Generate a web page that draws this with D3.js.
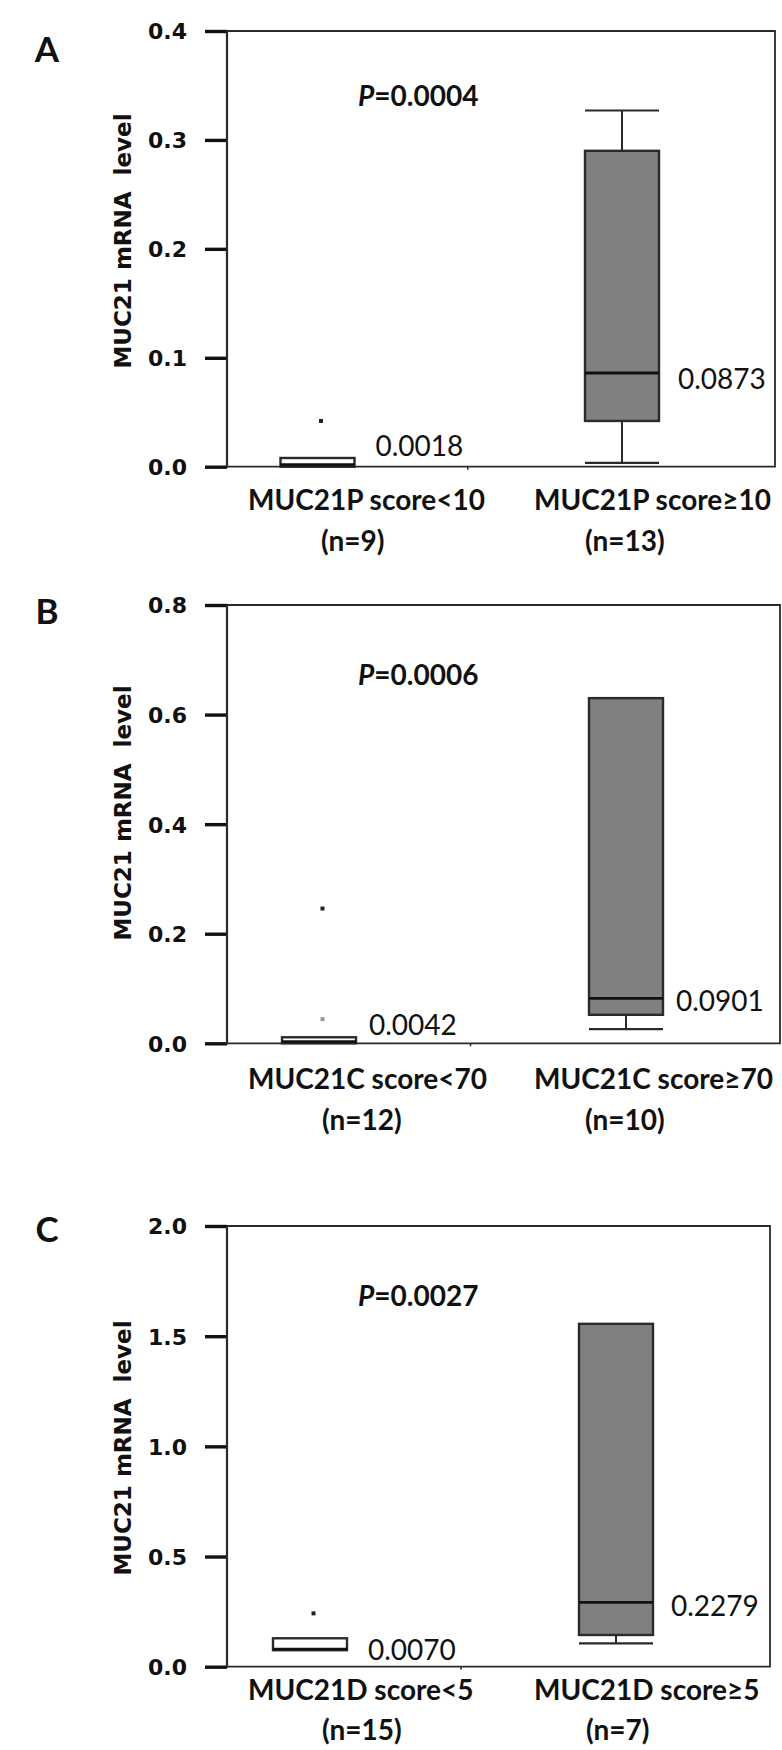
<!DOCTYPE html>
<html><head><meta charset="utf-8">
<script src="https://cdn.jsdelivr.net/npm/d3@7"></script>
<style>body{margin:0;background:#fff} svg{display:block}</style>
</head><body>
<svg id="chart" width="782" height="1750"></svg>
<script>
// ---------------- DATA ----------------
const panelLetters = ["A", "B", "C"];
const yTitle = "MUC21 mRNA\u00a0 level";

const categoriesA = ["MUC21P score<10", "MUC21P score\u226510"];
const groupSizesA = ["(n=9)", "(n=13)"];
const yTicksA = [0, 0.1, 0.2, 0.3, 0.4];
const pValueA = "0.0004";
const minA = [0, 0.0035];
const q1A = [0, 0.042];
const medianA = [0.0018, 0.086];
const q3A = [0.008, 0.29];
const maxA = [0.008, 0.327];
const outliersA = [[0.042], []];
const medianLabelsA = ["0.0018", "0.0873"];

const categoriesB = ["MUC21C score<70", "MUC21C score\u226570"];
const groupSizesB = ["(n=12)", "(n=10)"];
const yTicksB = [0, 0.2, 0.4, 0.6, 0.8];
const pValueB = "0.0006";
const minB = [0, 0.026];
const q1B = [0, 0.052];
const medianB = [0.003, 0.082];
const q3B = [0.011, 0.63];
const maxB = [0.011, 0.63];
const outliersB = [[0.246, 0.044], []];
const outlierShadeB = [["#222", "#999"], []];
const medianLabelsB = ["0.0042", "0.0901"];

const categoriesC = ["MUC21D score<5", "MUC21D score\u22655"];
const groupSizesC = ["(n=15)", "(n=7)"];
const yTicksC = [0, 0.5, 1.0, 1.5, 2.0];
const pValueC = "0.0027";
const minC = [0.075, 0.106];
const q1C = [0.075, 0.144];
const medianC = [0.08, 0.292];
const q3C = [0.129, 1.556];
const maxC = [0.129, 1.556];
const outliersC = [[0.242], []];
const medianLabelsC = ["0.0070", "0.2279"];

// ---------------- LAYOUT ----------------
const panels = [
  { letter: panelLetters[0], cats: categoriesA, ns: groupSizesA, ticks: yTicksA, p: pValueA,
    min: minA, q1: q1A, med: medianA, q3: q3A, max: maxA, out: outliersA, outShade: [["#222"], []],
    labels: medianLabelsA,
    top: 31, bottom: 466.7, left: 227, right: 775, centers: [317.5, 622], boxW: 74,
    labDx: [21, 19], labDy: [-20, 5], pY: 95, catY: 499, nY: 540, letterY: 62,
    catX: [248, 534], nX: [321, 585], titleY: 241 },
  { letter: panelLetters[1], cats: categoriesB, ns: groupSizesB, ticks: yTicksB, p: pValueB,
    min: minB, q1: q1B, med: medianB, q3: q3B, max: maxB, out: outliersB, outShade: outlierShadeB,
    labels: medianLabelsB,
    top: 605, bottom: 1043.3, left: 227, right: 780, centers: [319, 626], boxW: 74,
    labDx: [13, 13], labDy: [-18, 2], pY: 674, catY: 1078, nY: 1119, letterY: 624,
    catX: [248, 534], nX: [322, 585], titleY: 813 },
  { letter: panelLetters[2], cats: categoriesC, ns: groupSizesC, ticks: yTicksC, p: pValueC,
    min: minC, q1: q1C, med: medianC, q3: q3C, max: maxC, out: outliersC, outShade: [["#222"], []],
    labels: medianLabelsC,
    top: 1226, bottom: 1666.7, left: 227, right: 770, centers: [310, 616], boxW: 74,
    labDx: [21, 18], labDy: [0, 3], pY: 1295, catY: 1689, nY: 1729, letterY: 1242,
    catX: [248, 534], nX: [322, 586], titleY: 1448 }
];

const svg = d3.select("#chart");
const fills = ["#ffffff", "#808080"];
const ink = "#2a2a2a";

panels.forEach(P => {
  const g = svg.append("g");
  const y = d3.scaleLinear().domain([P.ticks[0], P.ticks[P.ticks.length - 1]]).range([P.bottom, P.top]);
  const x = d3.scalePoint().domain(P.cats).range(P.centers);

  // frame (top, right, bottom)
  g.append("path")
    .attr("d", `M${P.left},${P.top}H${P.right}V${P.bottom}H${P.left}`)
    .attr("fill", "none").attr("stroke", ink).attr("stroke-width", 1.8);
  // small tick on the x axis
  g.append("line").attr("x1", (P.centers[0] + P.centers[1]) / 2 - 2).attr("x2", (P.centers[0] + P.centers[1]) / 2 - 2)
    .attr("y1", P.bottom).attr("y2", P.bottom + 3).attr("stroke", ink).attr("stroke-width", 1.5);

  // y axis
  const axis = d3.axisLeft(y).tickValues(P.ticks).tickSize(22).tickPadding(18)
    .tickFormat(d3.format(".1f"));
  const ag = g.append("g").attr("transform", `translate(${P.left},0)`).call(axis);
  ag.select(".domain").remove();
  ag.selectAll(".tick line").attr("stroke", "#111").attr("stroke-width", 3.4);
  ag.selectAll(".tick text").attr("font-family", "DejaVu Sans").attr("font-weight", "bold")
    .attr("font-size", 22).attr("fill", "#111").attr("dy", "0.36em");
  g.append("line").attr("x1", P.left).attr("x2", P.left).attr("y1", P.top).attr("y2", P.bottom + 1)
    .attr("stroke", ink).attr("stroke-width", 2.2);

  // y title
  g.append("text")
    .attr("transform", `translate(123,${P.titleY}) rotate(-90)`)
    .attr("text-anchor", "middle").attr("dominant-baseline", "central")
    .attr("font-family", "DejaVu Sans").attr("font-weight", "bold").attr("font-size", 23)
    .attr("fill", "#111").text(yTitle);

  // panel letter
  g.append("text").attr("x", 47).attr("y", P.letterY).attr("text-anchor", "middle")
    .attr("font-family", "Lato").attr("font-weight", "bold").attr("font-size", 35)
    .attr("fill", "#111").text(P.letter);

  // p value
  const pt = g.append("text").attr("x", 358).attr("y", P.pY).attr("dominant-baseline", "central")
    .attr("font-family", "Lato").attr("font-weight", "bold").attr("font-size", 28).attr("fill", "#111");
  pt.append("tspan").attr("font-style", "italic").text("P");
  pt.append("tspan").text("=" + P.p);

  // boxes
  P.cats.forEach((c, i) => {
    const cx = x(c), hw = P.boxW / 2;
    const bg = g.append("g");
    if (P.max[i] > P.q3[i]) {
      bg.append("line").attr("x1", cx).attr("x2", cx).attr("y1", y(P.q3[i])).attr("y2", y(P.max[i]))
        .attr("stroke", ink).attr("stroke-width", 2);
      bg.append("line").attr("x1", cx - hw).attr("x2", cx + hw).attr("y1", y(P.max[i])).attr("y2", y(P.max[i]))
        .attr("stroke", ink).attr("stroke-width", 2.2);
    }
    if (P.min[i] < P.q1[i]) {
      bg.append("line").attr("x1", cx).attr("x2", cx).attr("y1", y(P.q1[i])).attr("y2", y(P.min[i]))
        .attr("stroke", ink).attr("stroke-width", 2);
      bg.append("line").attr("x1", cx - hw).attr("x2", cx + hw).attr("y1", y(P.min[i])).attr("y2", y(P.min[i]))
        .attr("stroke", ink).attr("stroke-width", 2.2);
    }
    bg.append("rect").attr("x", cx - hw).attr("width", P.boxW)
      .attr("y", y(P.q3[i])).attr("height", Math.max(1, y(P.q1[i]) - y(P.q3[i])))
      .attr("fill", fills[i]).attr("stroke", ink).attr("stroke-width", 2.4);
    bg.append("line").attr("x1", cx - hw).attr("x2", cx + hw).attr("y1", y(P.med[i])).attr("y2", y(P.med[i]))
      .attr("stroke", "#111").attr("stroke-width", 2.8);
    // outliers
    P.out[i].forEach((v, k) => {
      bg.append("rect").attr("x", cx + 1.5).attr("y", y(v) - 2).attr("width", 4).attr("height", 4)
        .attr("fill", P.outShade[i][k] || "#222");
    });
    // median label
    g.append("text").attr("x", cx + hw + P.labDx[i]).attr("y", y(P.med[i]) + P.labDy[i])
      .attr("dominant-baseline", "central")
      .attr("font-family", "Lato").attr("font-size", 28).attr("fill", "#111").text(P.labels[i]);
    // category labels
    g.append("text").attr("x", P.catX[i]).attr("y", P.catY).attr("dominant-baseline", "central")
      .attr("font-family", "Lato").attr("font-weight", "bold").attr("font-size", 28).attr("fill", "#111")
      .text(c);
    g.append("text").attr("x", P.nX[i]).attr("y", P.nY).attr("dominant-baseline", "central")
      .attr("font-family", "Lato").attr("font-weight", "bold").attr("font-size", 28).attr("fill", "#111")
      .text(P.ns[i]);
  });
});
</script>
</body></html>
